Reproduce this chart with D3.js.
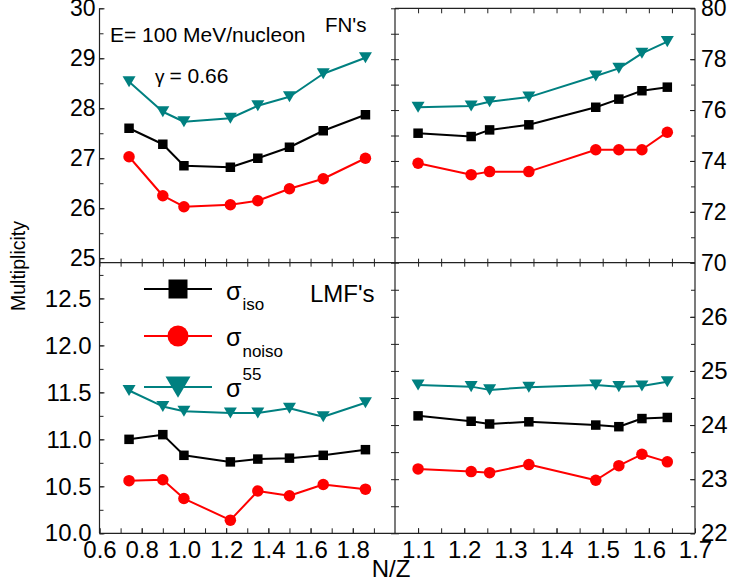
<!DOCTYPE html>
<html>
<head>
<meta charset="utf-8">
<script src="https://cdn.jsdelivr.net/npm/d3@7"></script>
<style>
  html, body { margin: 0; padding: 0; background: #fff; }
  svg { display: block; font-family: "Liberation Sans", Arial, sans-serif; }
</style>
</head>
<body>
<svg id="chart" width="735" height="586"></svg>
<script>
// ---------------- data ----------------
const xLeft  = [0.74, 0.90, 1.00, 1.22, 1.35, 1.50, 1.66, 1.86];
const xRight = [1.10, 1.215, 1.255, 1.34, 1.485, 1.535, 1.585, 1.64];

// FN's (top panels)
const fnIsoL   = [27.60, 27.28, 26.85, 26.82, 27.00, 27.22, 27.55, 27.87];
const fnNoisoL = [27.03, 26.25, 26.03, 26.07, 26.15, 26.39, 26.59, 27.00];
const fn55L    = [28.53, 27.93, 27.73, 27.80, 28.05, 28.23, 28.69, 29.01];
const fnIsoR   = [75.09, 74.96, 75.22, 75.42, 76.11, 76.43, 76.76, 76.90];
const fnNoisoR = [73.91, 73.46, 73.58, 73.58, 74.44, 74.44, 74.44, 75.13];
const fn55R    = [76.11, 76.16, 76.33, 76.51, 77.34, 77.64, 78.23, 78.69];

// LMF's (bottom panels)
const lmfIsoL   = [11.00, 11.05, 10.83, 10.76, 10.79, 10.80, 10.83, 10.89];
const lmfNoisoL = [10.56, 10.57, 10.37, 10.14, 10.45, 10.40, 10.52, 10.47];
const lmf55L    = [11.52, 11.35, 11.30, 11.28, 11.28, 11.33, 11.24, 11.39];
const lmfIsoR   = [24.17, 24.07, 24.02, 24.06, 24.00, 23.97, 24.12, 24.14];
const lmfNoisoR = [23.19, 23.14, 23.12, 23.27, 22.98, 23.25, 23.46, 23.32];
const lmf55R    = [24.74, 24.71, 24.65, 24.70, 24.74, 24.71, 24.72, 24.80];

// tick labels
const xLeftTicks   = [0.6, 0.8, 1.0, 1.2, 1.4, 1.6, 1.8];
const xLeftMinor   = [0.6,0.7,0.8,0.9,1.0,1.1,1.2,1.3,1.4,1.5,1.6,1.7,1.8,1.9];
const xRightTicks  = [1.1, 1.2, 1.3, 1.4, 1.5, 1.6, 1.7];
const xRightMinor  = [1.1,1.15,1.2,1.25,1.3,1.35,1.4,1.45,1.5,1.55,1.6,1.65];
const yTLTicks = [25, 26, 27, 28, 29, 30];
const yTLMinor = [25, 25.5, 26, 26.5, 27, 27.5, 28, 28.5, 29, 29.5, 30];
const yTRTicks = [70, 72, 74, 76, 78, 80];
const yTRMinor = [70,71,72,73,74,75,76,77,78,79,80];
const yBLTicks = [10.0, 10.5, 11.0, 11.5, 12.0, 12.5];
const yBLMinor = [10,10.25,10.5,10.75,11,11.25,11.5,11.75,12,12.25,12.5,12.75];
const yBRTicks = [22, 23, 24, 25, 26];
const yBRMinor = [22,22.5,23,23.5,24,24.5,25,25.5,26,26.5];

const seriesColors = { iso: "#000000", noiso: "#ff0000", s55: "#008080" };

// ---------------- layout ----------------
const X0 = 99.5, XM = 395, X1 = 695;
const Y0 = 8.3, YM = 262.7, Y1 = 533.3;

const xL = d3.scaleLinear().domain([0.6, 2.0]).range([X0, XM]);
const xR = d3.scaleLinear().domain([1.05, 1.70]).range([XM, X1]);
const yTL = d3.scaleLinear().domain([24.91, 30]).range([YM, Y0]);
const yTR = d3.scaleLinear().domain([70, 80]).range([YM, Y0]);
const yBL = d3.scaleLinear().domain([10, 12.88]).range([Y1, YM]);
const yBR = d3.scaleLinear().domain([22, 27]).range([Y1, YM]);

const svg = d3.select("#chart");
const FONT = '"Liberation Sans", Arial, sans-serif';
const axisColor = "#222";

function styleAxis(g, fontSize) {
  g.select(".domain").remove();
  g.selectAll(".tick line").attr("stroke", axisColor).attr("stroke-width", 1);
  g.selectAll("text").attr("font-size", fontSize).attr("font-family", FONT).attr("fill", "#000");
  g.attr("font-family", FONT);
}

// --------- frame lines ----------
const frame = svg.append("g").attr("stroke", axisColor).attr("stroke-width", 1.2).attr("fill", "none");
frame.append("line").attr("x1", X0).attr("x2", X0).attr("y1", Y0).attr("y2", Y1);
frame.append("line").attr("x1", XM).attr("x2", XM).attr("y1", Y0).attr("y2", Y1);
frame.append("line").attr("x1", X1).attr("x2", X1).attr("y1", Y0).attr("y2", Y1);
frame.append("line").attr("x1", X0).attr("x2", X1).attr("y1", YM).attr("y2", YM);
frame.append("line").attr("x1", X0).attr("x2", X1).attr("y1", Y1).attr("y2", Y1);
frame.append("line").attr("x1", XM).attr("x2", X1).attr("y1", Y0).attr("y2", Y0);

// --------- axes ----------
svg.append("g").attr("transform", `translate(${X0},0)`)
  .call(d3.axisLeft(yTL).tickValues(yTLMinor).tickSize(-4).tickFormat(""))
  .call(g => styleAxis(g, 22));
svg.append("g").attr("transform", `translate(${X0},0)`)
  .call(d3.axisLeft(yTL).tickValues(yTLTicks).tickSize(-5).tickPadding(4).tickFormat(d3.format("d")))
  .call(g => styleAxis(g, 23));
svg.append("g").attr("transform", `translate(${X0},0)`)
  .call(d3.axisLeft(yBL).tickValues(yBLMinor).tickSize(-4).tickFormat(""))
  .call(g => styleAxis(g, 22));
svg.append("g").attr("transform", `translate(${X0},0)`)
  .call(d3.axisLeft(yBL).tickValues(yBLTicks).tickSize(-5).tickPadding(8).tickFormat(d3.format(".1f")))
  .call(g => styleAxis(g, 24));

function rightPanelY(scale, minor, major, fontSize) {
  svg.append("g").attr("transform", `translate(${XM},0)`)
    .call(d3.axisRight(scale).tickValues(minor).tickSize(4).tickFormat(""))
    .call(g => { styleAxis(g, 10); g.selectAll(".tick line").attr("x1", -4); });
  svg.append("g").attr("transform", `translate(${X1},0)`)
    .call(d3.axisRight(scale).tickValues(minor).tickSize(-4).tickFormat(""))
    .call(g => styleAxis(g, 10));
  svg.append("g").attr("transform", `translate(${X1},0)`)
    .call(d3.axisRight(scale).tickValues(major).tickSize(-5).tickPadding(6).tickFormat(d3.format("d")))
    .call(g => styleAxis(g, fontSize));
}
rightPanelY(yTR, yTRMinor, yTRTicks, 23);
rightPanelY(yBR, yBRMinor, yBRTicks, 24);

svg.append("g").attr("transform", `translate(0,${Y1})`)
  .call(d3.axisBottom(xL).tickValues(xLeftMinor).tickSize(-5).tickFormat(""))
  .call(g => styleAxis(g, 10));
svg.append("g").attr("transform", `translate(0,${Y1})`)
  .call(d3.axisBottom(xL).tickValues(xLeftTicks).tickSize(-5).tickPadding(8).tickFormat(d3.format(".1f")))
  .call(g => styleAxis(g, 24));
svg.append("g").attr("transform", `translate(0,${Y1})`)
  .call(d3.axisBottom(xR).tickValues(xRightMinor).tickSize(-5).tickFormat(""))
  .call(g => styleAxis(g, 10));
svg.append("g").attr("transform", `translate(0,${Y1})`)
  .call(d3.axisBottom(xR).tickValues(xRightTicks).tickSize(-5).tickPadding(8).tickFormat(d3.format(".1f")))
  .call(g => styleAxis(g, 24));
[[xL, xLeftMinor], [xR, xRightMinor]].forEach(([sc, vals]) => {
  svg.append("g").attr("transform", `translate(0,${YM})`)
    .call(d3.axisBottom(sc).tickValues(vals).tickSize(4).tickFormat(""))
    .call(g => { styleAxis(g, 10); g.selectAll(".tick line").attr("y1", -4); });
});
svg.append("g").attr("transform", `translate(0,${Y0})`)
  .call(d3.axisTop(xR).tickValues(xRightMinor).tickSize(-5).tickFormat(""))
  .call(g => styleAxis(g, 10));

// --------- series ----------
function markerPath(type, s) {
  if (type === "square") { const h = s / 2; return `M${-h},${-h}H${h}V${h}H${-h}Z`; }
  if (type === "circle") { const r = s / 2; return `M${r},0A${r},${r} 0 1,1 ${-r},0A${r},${r} 0 1,1 ${r},0Z`; }
  const w = s, h = s * 0.85;
  return `M${-w/2},${-h/2}L${w/2},${-h/2}L0,${h/2}Z`;
}

function drawSeries(xs, ys, xScale, yScale, color, type, msize) {
  const pts = xs.map((x, i) => [xScale(x), yScale(ys[i])]);
  svg.append("path").attr("d", d3.line()(pts))
    .attr("fill", "none").attr("stroke", color).attr("stroke-width", 2).attr("stroke-linejoin", "round");
  svg.append("g").selectAll("path").data(pts).join("path")
    .attr("transform", d => `translate(${d[0]},${d[1]})`)
    .attr("d", markerPath(type, msize)).attr("fill", color);
}

const panels = [
  [xLeft, xL, yTL, fnIsoL, fnNoisoL, fn55L],
  [xRight, xR, yTR, fnIsoR, fnNoisoR, fn55R],
  [xLeft, xL, yBL, lmfIsoL, lmfNoisoL, lmf55L],
  [xRight, xR, yBR, lmfIsoR, lmfNoisoR, lmf55R]
];
panels.forEach(([xs, xs_, ys_, iso, noiso, s55]) => {
  drawSeries(xs, s55, xs_, ys_, seriesColors.s55, "tri", 13);
  drawSeries(xs, iso, xs_, ys_, seriesColors.iso, "square", 9.5);
  drawSeries(xs, noiso, xs_, ys_, seriesColors.noiso, "circle", 11.5);
});

// --------- legend ----------
const legend = svg.append("g");
const legendRows = [
  { y: 289, color: seriesColors.iso, type: "square", size: 19 },
  { y: 336, color: seriesColors.noiso, type: "circle", size: 21 },
  { y: 387, color: seriesColors.s55, type: "tri", size: 25 }
];
legendRows.forEach(r => {
  legend.append("line").attr("x1", 144).attr("x2", 212).attr("y1", r.y).attr("y2", r.y)
    .attr("stroke", r.color).attr("stroke-width", 2);
  legend.append("path").attr("transform", `translate(178,${r.y})`)
    .attr("d", markerPath(r.type, r.size)).attr("fill", r.color);
});
function sigmaLabel(x, y, script, dy) {
  const t = legend.append("text").attr("x", x).attr("y", y).attr("font-family", FONT)
    .attr("font-size", 25).attr("fill", "#000");
  t.append("tspan").text("σ");
  t.append("tspan").attr("font-size", 17).attr("dy", dy).attr("dx", 1).text(script);
}
sigmaLabel(226, 300, "iso", 10);
sigmaLabel(226, 346, "noiso", 11);
sigmaLabel(226, 397, "55", -17);

// --------- texts ----------
function txt(x, y, s, size) {
  return svg.append("text").attr("x", x).attr("y", y).attr("font-family", FONT)
    .attr("font-size", size).attr("fill", "#000").text(s);
}
txt(110, 41.7, "E= 100 MeV/nucleon", 21);
txt(325, 31.7, "FN's", 20.5);
txt(310, 301.7, "LMF's", 24);
const g = svg.append("text").attr("x", 155).attr("y", 83.3).attr("font-family", FONT).attr("fill", "#000");
g.append("tspan").attr("font-size", 19).text("γ");
g.append("tspan").attr("font-size", 21).attr("dx", 5).text("= 0.66");
txt(371.7, 576.7, "N/Z", 24);
svg.append("text").attr("transform", "translate(25,266) rotate(-90)")
  .attr("text-anchor", "middle").attr("font-family", FONT).attr("font-size", 19.5)
  .attr("fill", "#000").text("Multiplicity");
</script>
</body>
</html>
